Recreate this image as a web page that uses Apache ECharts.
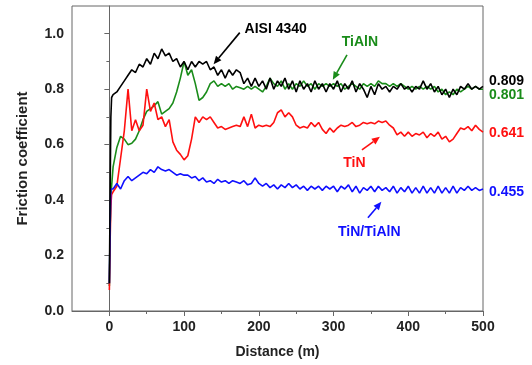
<!DOCTYPE html>
<html>
<head>
<meta charset="utf-8">
<script src="https://cdn.jsdelivr.net/npm/echarts@6/dist/echarts.min.js"></script>
<style>
  html, body { margin: 0; padding: 0; background: #fff; }
  #chart { width: 532px; height: 365px; }
</style>
</head>
<body>
<div id="chart"></div>
<script>
// distance in metres, shared by every curve
const distance = [
  0, 1, 2, 3,
  5, 10, 15, 20, 25, 30, 35, 40, 45, 50,
  55, 60, 65, 70, 75, 80, 85, 90, 95, 100,
  105, 110, 115, 120, 125, 130, 135, 140, 145, 150,
  155, 160, 165, 170, 175, 180, 185, 190, 195, 200,
  205, 210, 215, 220, 225, 230, 235, 240, 245, 250,
  255, 260, 265, 270, 275, 280, 285, 290, 295, 300,
  305, 310, 315, 320, 325, 330, 335, 340, 345, 350,
  355, 360, 365, 370, 375, 380, 385, 390, 395, 400,
  405, 410, 415, 420, 425, 430, 435, 440, 445, 450,
  455, 460, 465, 470, 475, 480, 485, 490, 495, 500
];

const aisi4340 = [
  0.10, 0.42, 0.70, 0.77,
  0.78, 0.79, 0.81, 0.83, 0.85, 0.87, 0.86, 0.89, 0.88, 0.91,
  0.89, 0.93, 0.91, 0.945, 0.92, 0.93, 0.90, 0.91, 0.88, 0.90,
  0.87, 0.90, 0.88, 0.90, 0.89, 0.90, 0.87, 0.88, 0.85, 0.87,
  0.84, 0.87, 0.85, 0.87, 0.86, 0.82, 0.84, 0.81, 0.84, 0.81,
  0.83, 0.80, 0.84, 0.80, 0.83, 0.81, 0.84, 0.80, 0.83, 0.79,
  0.83, 0.80, 0.82, 0.79, 0.83, 0.80, 0.82, 0.79, 0.82, 0.80,
  0.83, 0.79, 0.82, 0.80, 0.83, 0.79, 0.82, 0.80, 0.77, 0.81,
  0.78, 0.82, 0.80, 0.81, 0.79, 0.81, 0.80, 0.82, 0.80, 0.81,
  0.79, 0.81, 0.80, 0.83, 0.80, 0.82, 0.79, 0.81, 0.78, 0.80,
  0.77, 0.80, 0.78, 0.81, 0.80, 0.82, 0.80, 0.81, 0.80, 0.81
];

const tialn = [
  0.09, 0.30, 0.40, 0.45,
  0.52, 0.59, 0.63, 0.62, 0.60, 0.605, 0.62, 0.65, 0.69, 0.72,
  0.73, 0.74, 0.755, 0.71, 0.72, 0.73, 0.75, 0.79, 0.84, 0.90,
  0.85, 0.87, 0.82, 0.76, 0.77, 0.79, 0.82, 0.83, 0.81, 0.82,
  0.81, 0.82, 0.80, 0.81, 0.805, 0.80, 0.81, 0.80, 0.81, 0.80,
  0.79, 0.81, 0.84, 0.82, 0.81, 0.83, 0.80, 0.82, 0.80, 0.82,
  0.81, 0.83, 0.81, 0.82, 0.80, 0.82, 0.81, 0.82, 0.81, 0.82,
  0.81, 0.82, 0.80, 0.81, 0.82, 0.81, 0.80, 0.82, 0.81, 0.82,
  0.81, 0.83, 0.82, 0.82, 0.81, 0.82, 0.81, 0.82, 0.81, 0.80,
  0.81, 0.80, 0.81, 0.80, 0.81, 0.80, 0.81, 0.79, 0.80, 0.78,
  0.79, 0.78, 0.80, 0.79, 0.80, 0.81, 0.80, 0.81, 0.80, 0.80
];

const tin = [
  0.076, 0.25, 0.38, 0.42,
  0.43, 0.45, 0.55, 0.65, 0.80, 0.65, 0.69, 0.65, 0.67, 0.80,
  0.72, 0.75, 0.69, 0.70, 0.665, 0.69, 0.61, 0.58, 0.565, 0.545,
  0.56, 0.62, 0.70, 0.68, 0.70, 0.69, 0.70, 0.68, 0.66, 0.665,
  0.655, 0.66, 0.665, 0.67, 0.665, 0.70, 0.665, 0.71, 0.66, 0.67,
  0.665, 0.67, 0.665, 0.68, 0.715, 0.725, 0.70, 0.715, 0.70, 0.67,
  0.66, 0.665, 0.66, 0.68, 0.665, 0.68, 0.655, 0.64, 0.66, 0.645,
  0.66, 0.67, 0.665, 0.67, 0.68, 0.665, 0.67, 0.68, 0.675, 0.68,
  0.675, 0.685, 0.68, 0.685, 0.67, 0.66, 0.635, 0.645, 0.63, 0.645,
  0.63, 0.64, 0.635, 0.645, 0.625, 0.64, 0.63, 0.645, 0.62, 0.63,
  0.61, 0.62, 0.64, 0.66, 0.655, 0.665, 0.65, 0.67, 0.655, 0.645
];

const tinTialn = [
  0.10, 0.30, 0.44, 0.44,
  0.44, 0.46, 0.44, 0.47, 0.485, 0.47, 0.48, 0.49, 0.50, 0.495,
  0.51, 0.50, 0.52, 0.51, 0.505, 0.51, 0.50, 0.49, 0.495, 0.49,
  0.49, 0.48, 0.485, 0.47, 0.48, 0.465, 0.47, 0.46, 0.475, 0.465,
  0.47, 0.46, 0.47, 0.465, 0.46, 0.47, 0.455, 0.46, 0.48, 0.46,
  0.45, 0.46, 0.445, 0.455, 0.44, 0.455, 0.445, 0.46, 0.445, 0.455,
  0.44, 0.45, 0.435, 0.45, 0.44, 0.45, 0.435, 0.45, 0.44, 0.45,
  0.43, 0.45, 0.44, 0.455, 0.43, 0.45, 0.425, 0.445, 0.435, 0.45,
  0.43, 0.45, 0.435, 0.445, 0.43, 0.45, 0.425, 0.445, 0.43, 0.45,
  0.425, 0.445, 0.425, 0.45, 0.425, 0.445, 0.425, 0.45, 0.425, 0.445,
  0.425, 0.45, 0.425, 0.445, 0.435, 0.45, 0.435, 0.445, 0.435, 0.44
];

const xMajorTicks = [0, 100, 200, 300, 400, 500];
const xMinorTicks = [50, 150, 250, 350, 450];
const yMajorTicks = [0, 0.2, 0.4, 0.6, 0.8, 1.0];
const yMinorTicks = [0.1, 0.3, 0.5, 0.7, 0.9];

const finalValues = ['0.809', '0.801', '0.641', '0.455'];

const FONT = '"Liberation Sans", Arial, sans-serif';
const AXIS_COLOR = '#666';
const TEXT_COLOR = '#222';
const BLACK = '#000000';
const GREEN = '#1a8c1a';
const RED = '#ff1010';
const BLUE = '#1010ff';

function pairs(values) {
  return distance.map((d, i) => [d, values[i]]);
}

const chart = echarts.init(document.getElementById('chart'));

const baseAxisLabel = {
  fontFamily: FONT, fontWeight: 'bold', fontSize: 14, color: TEXT_COLOR
};

const option = {
  animation: false,
  backgroundColor: '#ffffff',
  grid: {
    left: 72, right: 49, top: 6, bottom: 54,
    show: true, borderColor: AXIS_COLOR, borderWidth: 1
  },
  xAxis: [
    {
      type: 'value', min: -50, max: 500, position: 'bottom',
      name: 'Distance (m)', nameLocation: 'middle', nameGap: 34,
      nameTextStyle: { fontFamily: FONT, fontWeight: 'bold', fontSize: 14, color: TEXT_COLOR },
      axisLine: { lineStyle: { color: AXIS_COLOR, width: 1 } },
      axisTick: { inside: false, length: 5, customValues: xMajorTicks, lineStyle: { color: AXIS_COLOR } },
      axisLabel: Object.assign({ margin: 9, customValues: xMajorTicks }, baseAxisLabel),
      splitLine: { show: false }
    },
    {
      type: 'value', min: -50, max: 500, position: 'bottom',
      axisLine: { show: false },
      axisTick: { inside: false, length: 3, customValues: xMinorTicks, lineStyle: { color: AXIS_COLOR } },
      axisLabel: { show: false, customValues: xMinorTicks },
      splitLine: { show: false }
    }
  ],
  yAxis: [
    {
      type: 'value', min: 0, max: 1.1, position: 'left',
      name: 'Friction coefficient', nameLocation: 'middle', nameGap: 42,
      nameTextStyle: { fontFamily: FONT, fontWeight: 'bold', fontSize: 15, color: TEXT_COLOR },
      axisLine: { show: true, lineStyle: { color: AXIS_COLOR, width: 1 } },
      axisTick: { show: true, inside: false, length: 5, customValues: yMajorTicks, lineStyle: { color: AXIS_COLOR } },
      axisLabel: Object.assign({
        margin: 8, customValues: yMajorTicks,
        formatter: v => v.toFixed(1)
      }, baseAxisLabel),
      splitLine: { show: false }
    },
    {
      type: 'value', min: 0, max: 1.1, position: 'left',
      axisLine: { show: false },
      axisTick: { show: true, inside: false, length: 3, customValues: yMinorTicks, lineStyle: { color: AXIS_COLOR } },
      axisLabel: { show: false, customValues: yMinorTicks },
      splitLine: { show: false }
    }
  ],
  series: [
    { name: 'TiAlN', data: pairs(tialn), color: GREEN },
    { name: 'TiN', data: pairs(tin), color: RED },
    { name: 'TiN/TiAlN', data: pairs(tinTialn), color: BLUE },
    { name: 'AISI 4340', data: pairs(aisi4340), color: BLACK }
  ].map(s => ({
    name: s.name,
    type: 'line',
    data: s.data,
    xAxisIndex: 0,
    yAxisIndex: 0,
    showSymbol: false,
    smooth: false,
    lineStyle: { color: s.color, width: 1.6 },
    itemStyle: { color: s.color }
  }))
};

chart.setOption(option);

// annotations placed in data coordinates
function px(d, v) {
  return chart.convertToPixel({ xAxisIndex: 0, yAxisIndex: 0 }, [d, v]);
}

function label(text, d, v, color, align) {
  const p = px(d, v);
  return {
    type: 'text', x: p[0], y: p[1], z: 100,
    style: {
      text: text, fill: color, font: 'bold 14px ' + FONT,
      align: align || 'left', verticalAlign: 'middle'
    }
  };
}

function arrow(from, to, color) {
  const a = px(from[0], from[1]);
  const b = px(to[0], to[1]);
  const ang = Math.atan2(b[1] - a[1], b[0] - a[0]);
  const len = 8, half = 3.5;
  const baseX = b[0] - len * Math.cos(ang);
  const baseY = b[1] - len * Math.sin(ang);
  const nx = -Math.sin(ang), ny = Math.cos(ang);
  return [
    {
      type: 'line', z: 100,
      shape: { x1: a[0], y1: a[1], x2: baseX, y2: baseY },
      style: { stroke: color, lineWidth: 1.6 }
    },
    {
      type: 'polygon', z: 100,
      shape: { points: [[b[0], b[1]], [baseX + nx * half, baseY + ny * half], [baseX - nx * half, baseY - ny * half]] },
      style: { fill: color }
    }
  ];
}

const rightX = 508;
const graphics = [
  label('AISI 4340', 181, 1.015, BLACK),
  label('TiAlN', 311, 0.97, GREEN),
  label('TiN', 313, 0.534, RED),
  label('TiN/TiAlN', 306, 0.285, BLUE),
  label(finalValues[0], rightX, 0.830, BLACK),
  label(finalValues[1], rightX, 0.780, GREEN),
  label(finalValues[2], rightX, 0.643, RED),
  label(finalValues[3], rightX, 0.430, BLUE)
].concat(
  arrow([174.5, 1.004], [139.5, 0.89], BLACK),
  arrow([318, 0.924], [299, 0.834], GREEN),
  arrow([338, 0.581], [362, 0.628], RED),
  arrow([346, 0.336], [364, 0.394], BLUE)
);

chart.setOption({ graphic: graphics });
</script>
</body>
</html>
